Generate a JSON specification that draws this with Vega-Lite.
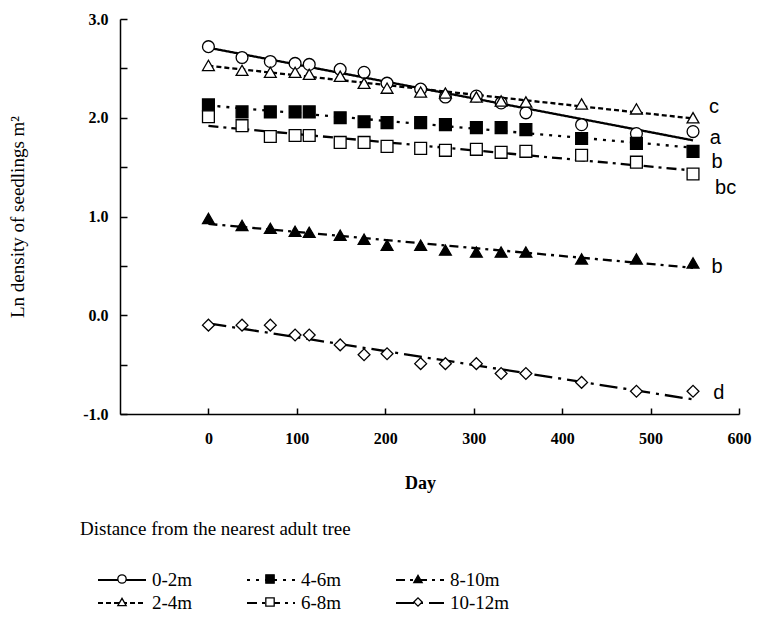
{
  "$schema": "https://vega.github.io/schema/vega-lite/v6.json",
  "width": 619,
  "height": 395,
  "autosize": {"type": "none"},
  "padding": {"left": 120, "top": 19, "right": 21, "bottom": 207},
  "background": "white",
  "config": {
    "view": {"stroke": null},
    "axis": {"grid": false, "labelColor": "black", "tickColor": "black", "domainColor": "black", "titleColor": "black"}
  },
  "datasets": {
    "points": [
      {"series": "0-2m", "day": 0, "value": 2.72}, {"series": "0-2m", "day": 38, "value": 2.61}, {"series": "0-2m", "day": 70, "value": 2.57}, {"series": "0-2m", "day": 98, "value": 2.55}, {"series": "0-2m", "day": 114, "value": 2.54}, {"series": "0-2m", "day": 149, "value": 2.49}, {"series": "0-2m", "day": 176, "value": 2.46}, {"series": "0-2m", "day": 202, "value": 2.35}, {"series": "0-2m", "day": 240, "value": 2.29}, {"series": "0-2m", "day": 268, "value": 2.21}, {"series": "0-2m", "day": 303, "value": 2.22}, {"series": "0-2m", "day": 331, "value": 2.15}, {"series": "0-2m", "day": 359, "value": 2.05}, {"series": "0-2m", "day": 422, "value": 1.93}, {"series": "0-2m", "day": 484, "value": 1.84}, {"series": "0-2m", "day": 548, "value": 1.86},
      {"series": "2-4m", "day": 0, "value": 2.53}, {"series": "2-4m", "day": 38, "value": 2.48}, {"series": "2-4m", "day": 70, "value": 2.46}, {"series": "2-4m", "day": 98, "value": 2.46}, {"series": "2-4m", "day": 114, "value": 2.44}, {"series": "2-4m", "day": 149, "value": 2.42}, {"series": "2-4m", "day": 176, "value": 2.35}, {"series": "2-4m", "day": 202, "value": 2.30}, {"series": "2-4m", "day": 240, "value": 2.26}, {"series": "2-4m", "day": 268, "value": 2.25}, {"series": "2-4m", "day": 303, "value": 2.21}, {"series": "2-4m", "day": 331, "value": 2.17}, {"series": "2-4m", "day": 359, "value": 2.16}, {"series": "2-4m", "day": 422, "value": 2.14}, {"series": "2-4m", "day": 484, "value": 2.09}, {"series": "2-4m", "day": 548, "value": 2.00},
      {"series": "4-6m", "day": 0, "value": 2.13}, {"series": "4-6m", "day": 38, "value": 2.06}, {"series": "4-6m", "day": 70, "value": 2.06}, {"series": "4-6m", "day": 98, "value": 2.06}, {"series": "4-6m", "day": 114, "value": 2.06}, {"series": "4-6m", "day": 149, "value": 2.00}, {"series": "4-6m", "day": 176, "value": 1.96}, {"series": "4-6m", "day": 202, "value": 1.95}, {"series": "4-6m", "day": 240, "value": 1.95}, {"series": "4-6m", "day": 268, "value": 1.93}, {"series": "4-6m", "day": 303, "value": 1.90}, {"series": "4-6m", "day": 331, "value": 1.90}, {"series": "4-6m", "day": 359, "value": 1.88}, {"series": "4-6m", "day": 422, "value": 1.79}, {"series": "4-6m", "day": 484, "value": 1.74}, {"series": "4-6m", "day": 548, "value": 1.66},
      {"series": "6-8m", "day": 0, "value": 2.01}, {"series": "6-8m", "day": 38, "value": 1.92}, {"series": "6-8m", "day": 70, "value": 1.81}, {"series": "6-8m", "day": 98, "value": 1.82}, {"series": "6-8m", "day": 114, "value": 1.82}, {"series": "6-8m", "day": 149, "value": 1.75}, {"series": "6-8m", "day": 176, "value": 1.75}, {"series": "6-8m", "day": 202, "value": 1.71}, {"series": "6-8m", "day": 240, "value": 1.69}, {"series": "6-8m", "day": 268, "value": 1.67}, {"series": "6-8m", "day": 303, "value": 1.68}, {"series": "6-8m", "day": 331, "value": 1.65}, {"series": "6-8m", "day": 359, "value": 1.66}, {"series": "6-8m", "day": 422, "value": 1.62}, {"series": "6-8m", "day": 484, "value": 1.55}, {"series": "6-8m", "day": 548, "value": 1.43},
      {"series": "8-10m", "day": 0, "value": 0.98}, {"series": "8-10m", "day": 38, "value": 0.91}, {"series": "8-10m", "day": 70, "value": 0.88}, {"series": "8-10m", "day": 98, "value": 0.85}, {"series": "8-10m", "day": 114, "value": 0.84}, {"series": "8-10m", "day": 149, "value": 0.81}, {"series": "8-10m", "day": 176, "value": 0.77}, {"series": "8-10m", "day": 202, "value": 0.71}, {"series": "8-10m", "day": 240, "value": 0.71}, {"series": "8-10m", "day": 268, "value": 0.66}, {"series": "8-10m", "day": 303, "value": 0.64}, {"series": "8-10m", "day": 331, "value": 0.64}, {"series": "8-10m", "day": 359, "value": 0.64}, {"series": "8-10m", "day": 422, "value": 0.57}, {"series": "8-10m", "day": 484, "value": 0.57}, {"series": "8-10m", "day": 548, "value": 0.53},
      {"series": "10-12m", "day": 0, "value": -0.10}, {"series": "10-12m", "day": 38, "value": -0.10}, {"series": "10-12m", "day": 70, "value": -0.10}, {"series": "10-12m", "day": 98, "value": -0.20}, {"series": "10-12m", "day": 114, "value": -0.20}, {"series": "10-12m", "day": 149, "value": -0.30}, {"series": "10-12m", "day": 176, "value": -0.40}, {"series": "10-12m", "day": 202, "value": -0.39}, {"series": "10-12m", "day": 240, "value": -0.49}, {"series": "10-12m", "day": 268, "value": -0.49}, {"series": "10-12m", "day": 303, "value": -0.49}, {"series": "10-12m", "day": 331, "value": -0.59}, {"series": "10-12m", "day": 359, "value": -0.59}, {"series": "10-12m", "day": 422, "value": -0.68}, {"series": "10-12m", "day": 484, "value": -0.77}, {"series": "10-12m", "day": 548, "value": -0.77}
    ],
    "labels": [
      {"label": "c", "day": 566, "value": 2.11},
      {"label": "a", "day": 567, "value": 1.80},
      {"label": "b", "day": 569, "value": 1.55},
      {"label": "bc", "day": 573, "value": 1.29},
      {"label": "b", "day": 569, "value": 0.49},
      {"label": "d", "day": 571, "value": -0.79}
    ]
  },
  "layer": [
    {
      "data": {"name": "points"},
      "transform": [{"regression": "value", "on": "day", "groupby": ["series"]}],
      "mark": {"type": "line", "color": "black", "strokeWidth": 2.3},
      "encoding": {
        "x": {
          "field": "day", "type": "quantitative",
          "scale": {"domain": [-100, 600], "nice": false, "zero": false},
          "axis": {
            "title": "Day", "values": [0, 100, 200, 300, 400, 500, 600],
            "tickSize": -6, "tickWidth": 1.5, "domainWidth": 1.5, "labelPadding": 22,
            "labelFont": "Liberation Serif", "labelFontSize": 16, "labelFontWeight": "bold", "labelFlush": false,
            "titleFont": "Liberation Serif", "titleFontSize": 18, "titleFontWeight": "bold",
            "titlePadding": 28, "titleX": 300
          }
        },
        "y": {
          "field": "value", "type": "quantitative",
          "scale": {"domain": [-1, 3], "nice": false, "zero": false},
          "axis": {
            "title": "Ln density of seedlings m²",
            "values": [-1, -0.5, 0, 0.5, 1, 1.5, 2, 2.5, 3],
            "labelExpr": "datum.value % 1 === 0 ? (datum.value < 0 ? '-' + format(-datum.value, '.1f') : format(datum.value, '.1f')) : ''",
            "tickSize": -7, "tickWidth": 1.5, "domainWidth": 1.5, "labelPadding": 19,
            "labelFont": "Liberation Serif", "labelFontSize": 16, "labelFontWeight": "bold", "labelFlush": false,
            "titleFont": "Liberation Serif", "titleFontSize": 19, "titleFontWeight": "normal",
            "titlePadding": 55
          }
        },
        "strokeDash": {
          "field": "series", "type": "nominal",
          "scale": {
            "domain": ["0-2m", "2-4m", "4-6m", "6-8m", "8-10m", "10-12m"],
            "range": [[1, 0], [5, 3], [3, 6], [10, 5, 3, 5], [9, 5, 3, 5], [18, 6, 3, 6]]
          },
          "legend": {
            "title": "Distance from the nearest adult tree",
            "orient": "none", "legendX": -40, "legendY": 501, "columns": 3,
            "symbolType": "stroke", "symbolSize": 2304, "symbolStrokeWidth": 2, "symbolStrokeColor": "black",
            "labelFont": "Liberation Serif", "labelFontSize": 19, "labelColor": "black", "labelOffset": 5,
            "titleFont": "Liberation Serif", "titleFontSize": 19, "titleFontWeight": "normal", "titleColor": "black", "titleLimit": 400,
            "titlePadding": 31, "clipHeight": 20, "rowPadding": 3, "columnPadding": 53,
            "encode": {"title": {"update": {"dx": {"value": -17}}}}
          }
        }
      }
    },
    {
      "data": {"name": "points"},
      "mark": {"type": "point", "filled": false, "color": "black", "strokeWidth": 1.3, "size": 140, "opacity": 1},
      "encoding": {
        "x": {"field": "day", "type": "quantitative"},
        "y": {"field": "value", "type": "quantitative"},
        "shape": {
          "field": "series", "type": "nominal",
          "scale": {
            "domain": ["0-2m", "2-4m", "4-6m", "6-8m", "8-10m", "10-12m"],
            "range": ["circle", "triangle-up", "square", "square", "triangle-up", "diamond"]
          },
          "legend": {
            "title": null,
            "orient": "none", "legendX": -7.5, "legendY": 550, "columns": 3,
            "symbolSize": 70, "symbolStrokeWidth": 1.3,
            "labelExpr": "''", "labelFontSize": 19, "labelOffset": 0,
            "clipHeight": 20, "rowPadding": 3, "columnPadding": 129
          }
        },
        "fill": {
          "field": "series", "type": "nominal",
          "scale": {
            "domain": ["0-2m", "2-4m", "4-6m", "6-8m", "8-10m", "10-12m"],
            "range": ["white", "white", "black", "white", "black", "white"]
          },
          "legend": {
            "title": null,
            "orient": "none", "legendX": -7.5, "legendY": 550, "columns": 3,
            "symbolSize": 70, "symbolStrokeWidth": 1.3,
            "labelExpr": "''", "labelFontSize": 19, "labelOffset": 0,
            "clipHeight": 20, "rowPadding": 3, "columnPadding": 129
          }
        }
      }
    },
    {
      "data": {"name": "labels"},
      "mark": {"type": "text", "align": "left", "baseline": "middle", "font": "Liberation Sans", "fontSize": 20, "color": "black"},
      "encoding": {
        "x": {"field": "day", "type": "quantitative"},
        "y": {"field": "value", "type": "quantitative"},
        "text": {"field": "label"}
      }
    }
  ],
  "resolve": {"legend": {"strokeDash": "independent", "shape": "independent", "fill": "independent"}}
}
